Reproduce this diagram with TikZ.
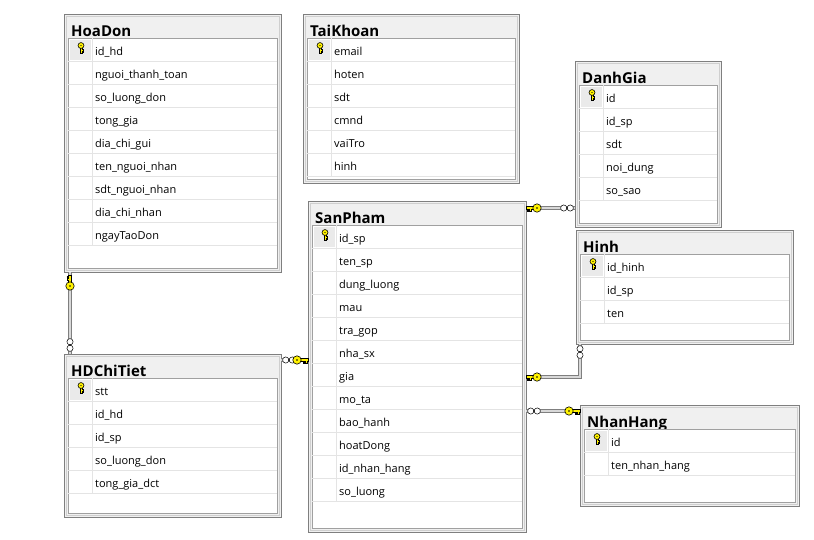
\documentclass[tikz,border=0pt]{standalone}
\usepackage{fontspec}
\setmainfont{Open Sans}
\usepackage{xcolor}
\usepackage{tikz}
\usetikzlibrary{calc}

\definecolor{framegray}{HTML}{7F7F7F}
\definecolor{shadegray}{HTML}{CFCFCF}
\definecolor{panelgray}{HTML}{F0F0F0}
\definecolor{gridgray}{HTML}{A0A0A0}
\definecolor{rowgray}{HTML}{E4E4E4}
\definecolor{keycell}{HTML}{EAEAEA}
\definecolor{keyyellow}{HTML}{FFF200}
\definecolor{relfill}{HTML}{D8D8D8}

\tikzset{
	pkey/.pic={
		\draw[black, fill=keyyellow, line width=0.5pt] (-11,-1.3) -- (-3,-1.3) -- (-3,1.3) -- (-6,1.3) -- (-6,3) -- (-7.5,3) -- (-7.5,1.3)
			-- (-8.5,1.3) -- (-8.5,3.2) -- (-10,3.2) -- (-10,1.3) -- (-11,1.3) -- cycle;
		\draw[black, fill=keyyellow, line width=0.6pt] (0,0) circle (4.2pt);
		\fill[black] (0,0) circle (0.9pt);
	},
	pmany/.pic={
		\draw[black, fill=white, line width=0.5pt] (-3.3,0) circle (3.1pt) (3.3,0) circle (3.1pt);
	}
}

% #1 name, #2 x, #3 y, #4 width, #5 height, #6 title, #7 columns (first one is the key)
\newcommand{\erdtable}[7]{%
	\node[tframe, minimum width=#4pt, minimum height=#5pt] at (#2,#3) (#1) {};
	\draw[tshade] ({#2+2},{#3+2}) rectangle ({#2+#4-2},{#3+#5-2});
	\node[ttitle] at ({#2+7},{#3+22}) (#1-title) {#6};
	\draw[tinner] ({#2+4},{#3+24}) rectangle ({#2+#4-4},{#3+#5-4});
	\foreach \col [count=\i] in {#7} {
		\draw[trow] ({#2+4},{#3+24+\i*23}) -- ({#2+#4-4},{#3+24+\i*23});
		\draw[trow] ({#2+28},{#3+24+(\i-1)*23}) -- ({#2+28},{#3+24+\i*23});
		\node[tcol] at ({#2+31},{#3+18.5+\i*23}) {\col};
	}
	\fill[keycell] ({#2+6},{#3+26}) rectangle ({#2+27},{#3+46});
	\pic[scale=0.7, rotate=90] at ({#2+17},{#3+31.5}) {pkey};
}

\begin{document}
\begin{tikzpicture}[x=1pt, y=-1pt]
		\tikzstyle{tframe} = [draw=framegray, fill=panelgray, line width=0.8pt, rectangle, anchor=north west, inner sep=0, outer sep=0]
		\tikzstyle{tshade} = [draw=shadegray, line width=0.5pt]
		\tikzstyle{tinner} = [draw=gridgray, fill=white, line width=0.6pt]
		\tikzstyle{trow}   = [draw=rowgray, line width=0.6pt]
		\tikzstyle{ttitle} = [anchor=base west, inner sep=0, font=\fontsize{15}{17}\selectfont\bfseries]
		\tikzstyle{tcol}   = [anchor=base west, inner sep=0, font=\fontsize{11}{13}\selectfont]
		\tikzstyle{rel}    = [draw=framegray, double=relfill, double distance=2pt, line width=0.7pt]
		
		\useasboundingbox (0,0) rectangle (814,539);
		
		\erdtable{hoadon}{64}{14}{217}{258}{HoaDon}{id\_hd, nguoi\_thanh\_toan, so\_luong\_don, tong\_gia, dia\_chi\_gui, ten\_nguoi\_nhan, sdt\_nguoi\_nhan, dia\_chi\_nhan, ngayTaoDon}
		\erdtable{taikhoan}{303}{14}{216}{169}{TaiKhoan}{email, hoten, sdt, cmnd, vaiTro, hinh}
		\erdtable{danhgia}{575}{61}{146}{166}{DanhGia}{id, id\_sp, sdt, noi\_dung, so\_sao}
		\erdtable{hinh}{576}{230}{217}{114}{Hinh}{id\_hinh, id\_sp, ten}
		\erdtable{sanpham}{308}{201}{218}{331}{SanPham}{id\_sp, ten\_sp, dung\_luong, mau, tra\_gop, nha\_sx, gia, mo\_ta, bao\_hanh, hoatDong, id\_nhan\_hang, so\_luong}
		\erdtable{hdchitiet}{64}{354}{217}{163}{HDChiTiet}{stt, id\_hd, id\_sp, so\_luong\_don, tong\_gia\_dct}
		\erdtable{nhanhang}{580}{405}{219}{101}{NhanHang}{id, ten\_nhan\_hang}
		
		% relationships
		\draw[rel] ([xshift=6pt]hoadon.south west) -- ([xshift=6pt]hdchitiet.north west);
		\draw[rel] ([yshift=-6pt]hdchitiet.north east) -- ([yshift=-6pt]hdchitiet.north east -| sanpham.west);
		\draw[rel] ([yshift=-7pt]sanpham.north east) -- ([yshift=-7pt]sanpham.north east -| danhgia.west);
		\draw[rel] ([yshift=-176pt]sanpham.north east) -| ([xshift=4pt]hinh.south west);
		\draw[rel] ([yshift=-210pt]sanpham.north east) -- ([yshift=-210pt]sanpham.north east -| nhanhang.west);
		
		\pic[rotate=-90] at ([shift={(6pt,-14pt)}]hoadon.south west) {pkey};
		\pic[rotate=90] at ([shift={(6pt,9pt)}]hdchitiet.north west) {pmany};
		\pic at ([shift={(8pt,-6pt)}]hdchitiet.north east) {pmany};
		\pic[xscale=-1] at ([shift={(-11pt,-6pt)}]hdchitiet.north east -| sanpham.west) {pkey};
		\pic at ([shift={(11pt,-7pt)}]sanpham.north east) {pkey};
		\pic at ([shift={(-8pt,-7pt)}]sanpham.north east -| danhgia.west) {pmany};
		\pic at ([shift={(11pt,-176pt)}]sanpham.north east) {pkey};
		\pic[rotate=90] at ([shift={(4pt,-8pt)}]hinh.south west) {pmany};
		\pic at ([shift={(8pt,-210pt)}]sanpham.north east) {pmany};
		\pic[xscale=-1] at ([shift={(-11pt,-210pt)}]sanpham.north east -| nhanhang.west) {pkey};
\end{tikzpicture}
\end{document}
